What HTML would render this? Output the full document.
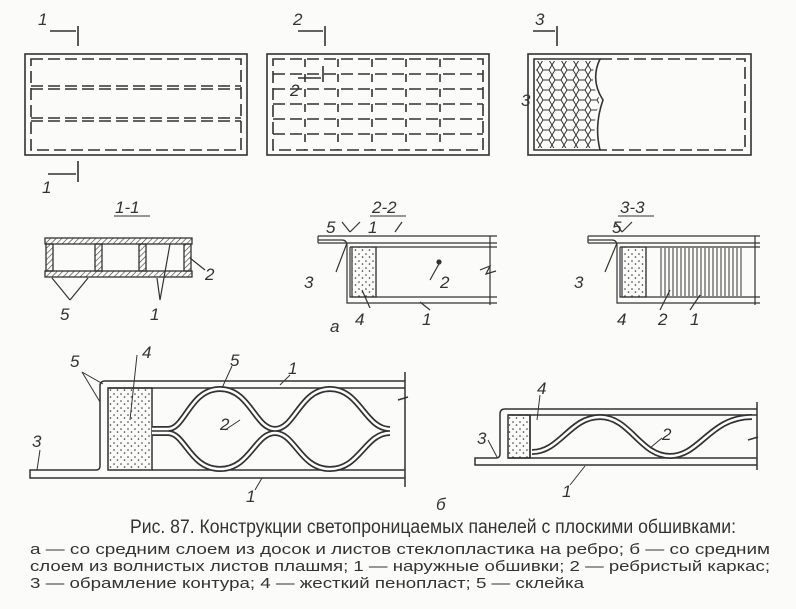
<!DOCTYPE html>
<html><head><meta charset="utf-8"><style>
body{margin:0;background:#fff}
svg{display:block}
text{font-family:"Liberation Sans","DejaVu Sans",sans-serif;fill:#333}
.l{font-style:italic;font-size:17px}
</style></head><body>
<svg width="796" height="609" viewBox="0 0 796 609" xmlns="http://www.w3.org/2000/svg">
<rect width="796" height="609" fill="#fbfbf9"/>
<defs>
<pattern id="dots" width="7" height="7" patternUnits="userSpaceOnUse"><circle cx="2" cy="2" r="0.8" fill="#333"/><circle cx="5.5" cy="5" r="0.8" fill="#333"/></pattern>
<pattern id="vl" width="4" height="10" patternUnits="userSpaceOnUse"><line x1="1" y1="0" x2="1" y2="10" stroke="#333" stroke-width="1"/></pattern>
<pattern id="hex" width="12" height="10" patternUnits="userSpaceOnUse"><path d="M0 5 L3 0 H9 L12 5 L9 10 H3 Z" fill="none" stroke="#333" stroke-width="1"/></pattern>
<pattern id="hat" width="4" height="4" patternUnits="userSpaceOnUse" patternTransform="rotate(45)"><line x1="0" y1="0" x2="0" y2="4" stroke="#333" stroke-width="1.2"/></pattern>
</defs>
<g stroke="#333" fill="none" stroke-width="1.6">
<rect x="25" y="54" width="222" height="101"/>
<rect x="31" y="59" width="210" height="91" stroke-dasharray="12,5"/>
<line x1="31" y1="86" x2="241" y2="86" stroke-dasharray="12,5"/>
<line x1="31" y1="89" x2="241" y2="89" stroke-dasharray="12,5"/>
<line x1="31" y1="118" x2="241" y2="118" stroke-dasharray="12,5"/>
<line x1="31" y1="121" x2="241" y2="121" stroke-dasharray="12,5"/>
<line x1="78" y1="26" x2="78" y2="46"/><line x1="50" y1="31" x2="76" y2="31"/>
<line x1="78" y1="161" x2="78" y2="182"/><line x1="48" y1="174" x2="76" y2="174"/>
<rect x="267" y="54" width="222" height="101"/>
<rect x="273" y="59" width="210" height="91" stroke-dasharray="12,5"/>
<line x1="273" y1="74" x2="483" y2="74" stroke-dasharray="12,5"/>
<line x1="273" y1="89" x2="483" y2="89" stroke-dasharray="12,5"/>
<line x1="273" y1="104" x2="483" y2="104" stroke-dasharray="12,5"/>
<line x1="273" y1="119" x2="483" y2="119" stroke-dasharray="12,5"/>
<line x1="273" y1="134" x2="483" y2="134" stroke-dasharray="12,5"/>
<line x1="305" y1="59" x2="305" y2="150" stroke-dasharray="8,7"/>
<line x1="338" y1="59" x2="338" y2="150" stroke-dasharray="8,7"/>
<line x1="372" y1="59" x2="372" y2="150" stroke-dasharray="8,7"/>
<line x1="406" y1="59" x2="406" y2="150" stroke-dasharray="8,7"/>
<line x1="440" y1="59" x2="440" y2="150" stroke-dasharray="8,7"/>
<line x1="325" y1="26" x2="325" y2="46"/><line x1="298" y1="31" x2="323" y2="31"/>
<line x1="323" y1="66" x2="323" y2="82"/><line x1="298" y1="78" x2="321" y2="78"/>
<rect x="528" y="54" width="223" height="101"/>
<path d="M600 59 H745 V150 H600" stroke-dasharray="12,5"/>
<path d="M534 59 H600 Q590 80 603 100 Q594 125 600 150 H534 Z"/>
<line x1="557" y1="26" x2="557" y2="46"/><line x1="533" y1="31" x2="555" y2="31"/>
</g>
<path d="M536 61 H596 Q588 80 600 100 Q591 125 597 148 H536 Z" fill="url(#hex)"/>
<text class="l" x="38" y="25">1</text><text class="l" x="42" y="193">1</text>
<text class="l" x="293" y="25">2</text><text class="l" x="290" y="96">2</text>
<text class="l" x="535" y="25">3</text><text class="l" x="521" y="106">3</text>
<text class="l" x="115" y="213">1-1</text><line x1="114" y1="216" x2="150" y2="216" stroke="#333"/>
<text class="l" x="372" y="213">2-2</text><line x1="370" y1="216" x2="406" y2="216" stroke="#333"/>
<text class="l" x="620" y="213">3-3</text><line x1="618" y1="216" x2="654" y2="216" stroke="#333"/>
<g stroke="#333" stroke-width="1.3">
<rect x="45" y="238" width="147" height="6" fill="url(#hat)"/>
<rect x="45" y="271" width="147" height="6" fill="url(#hat)"/>
<rect x="46" y="244" width="7" height="27" fill="url(#hat)"/>
<rect x="95" y="244" width="7" height="27" fill="url(#hat)"/>
<rect x="139" y="244" width="7" height="27" fill="url(#hat)"/>
<rect x="184" y="244" width="7" height="27" fill="url(#hat)"/>
</g>
<g stroke="#333" fill="none" stroke-width="1.2">
<path d="M70 300 L52 278 M70 300 L88 278 M160 300 L170 244 M160 300 L157 278 M205 270 L190 258"/>
<path d="M318 236 H497 M318 243 H497 M318 236 V243"/>
<path d="M318 240 H342 Q347 240 347 246 V303 H497 M350 247 V297 H497 M350 247 H497"/>
<rect x="352" y="247" width="24" height="50" fill="url(#dots)"/>
<path d="M376 247 V297 M490 236 V305 M480 270 l10 -4 l-4 8 l10 -3"/>
<path d="M336 272 L347 243 M350 232 L342 222 M350 232 L360 222 M395 232 L402 222 M430 280 L440 262 M370 308 L362 290 M430 310 L420 302"/>
<circle cx="439" cy="262" r="2" fill="#333"/>
<path d="M588 236 H760 M588 243 H760 M588 236 V243"/>
<path d="M588 240 H612 Q617 240 617 246 V303 H760 M620 247 V297 H760 M620 247 H760"/>
<rect x="622" y="247" width="24" height="50" fill="url(#dots)"/>
<path d="M646 247 V297 M755 236 V305"/>
<path d="M605 272 L617 243 M622 232 L615 222 M622 232 L632 222 M660 310 L670 290 M690 310 L700 295"/>
</g>
<rect x="658" y="248" width="86" height="48" fill="url(#vl)"/>
<text class="l" x="326" y="233">5</text><text class="l" x="368" y="233">1</text>
<text class="l" x="304" y="288">3</text><text class="l" x="440" y="288">2</text>
<text class="l" x="355" y="325">4</text><text class="l" x="422" y="325">1</text>
<text class="l" x="330" y="332" font-size="20">a</text>
<text class="l" x="612" y="233">5</text><text class="l" x="574" y="288">3</text>
<text class="l" x="617" y="325">4</text><text class="l" x="658" y="325">2</text><text class="l" x="690" y="325">1</text>
<text class="l" x="60" y="320">5</text><text class="l" x="150" y="320">1</text><text class="l" x="205" y="280">2</text>
<g stroke="#333" fill="none" stroke-width="1.5">
<path d="M105 381 H405 M108 388 H405 M105 381 Q100 381 100 386 V466 Q100 470 96 470 H30 V478 H405 M152 470 H405"/>
<rect x="108" y="388" width="44" height="82" fill="url(#dots)"/>
<path d="M405 372 V487 M398 400 l10 -3"/>
<g stroke-width="6">
<path d="M152 429 H168 C185 429 190 389 220 389 C250 389 255 429 275 429 C295 429 300 389 330 389 C360 389 365 429 390 429"/>
<path d="M152 433 H168 C185 433 190 469 220 469 C250 469 255 433 275 433 C295 433 300 469 330 469 C360 469 365 433 390 433"/>
</g>
<g stroke="#fff" stroke-width="2.5">
<path d="M152 429 H168 C185 429 190 389 220 389 C250 389 255 429 275 429 C295 429 300 389 330 389 C360 389 365 429 390 429"/>
<path d="M152 433 H168 C185 433 190 469 220 469 C250 469 255 433 275 433 C295 433 300 469 330 469 C360 469 365 433 390 433"/>
</g>
<path stroke-width="1" d="M82 372 L103 384 M82 372 L100 402 M137 355 L130 420 M232 366 L222 388 M290 375 L280 385 M240 420 L225 430 M40 450 L37 470 M255 490 L262 478"/>
<path d="M505 409 H757 M508 415 H757 M505 409 Q500 409 500 414 V454 Q500 458 496 458 H475 V465 H757 M508 458 H757 M530 458 V415"/>
<rect x="508" y="415" width="22" height="43" fill="url(#dots)"/>
<path d="M757 402 V470 M748 440 l10 -3"/>
<g stroke-width="6"><path d="M532 452 C560 452 570 417 600 417 C630 417 640 456 670 456 C700 456 710 417 752 417"/></g>
<g stroke="#fff" stroke-width="2.5"><path d="M532 452 C560 452 570 417 600 417 C630 417 640 456 670 456 C700 456 710 417 752 417"/></g>
<path stroke-width="1" d="M488 440 L497 457 M540 395 L537 420 M662 438 L650 448 M570 485 L585 466"/>
</g>
<text class="l" x="70" y="367">5</text><text class="l" x="142" y="358">4</text><text class="l" x="230" y="366">5</text>
<text class="l" x="288" y="374">1</text><text class="l" x="220" y="430">2</text><text class="l" x="32" y="447">3</text>
<text class="l" x="246" y="502">1</text><text class="l" x="436" y="510">б</text>
<text class="l" x="537" y="394">4</text><text class="l" x="477" y="444">3</text><text class="l" x="662" y="440">2</text><text class="l" x="562" y="497">1</text>
<text x="130" y="533" font-size="19" textLength="606" lengthAdjust="spacingAndGlyphs">Рис. 87. Конструкции светопроницаемых панелей с плоскими обшивками:</text>
<text x="30" y="554" font-size="15" textLength="740" lengthAdjust="spacingAndGlyphs">а — со средним слоем из досок и листов стеклопластика на ребро; б — со средним</text>
<text x="30" y="571" font-size="15" textLength="740" lengthAdjust="spacingAndGlyphs">слоем из волнистых листов плашмя; 1 — наружные обшивки; 2 — ребристый каркас;</text>
<text x="30" y="588" font-size="15" textLength="554" lengthAdjust="spacingAndGlyphs">3 — обрамление контура; 4 — жесткий пенопласт; 5 — склейка</text>
</svg>
</body></html>
